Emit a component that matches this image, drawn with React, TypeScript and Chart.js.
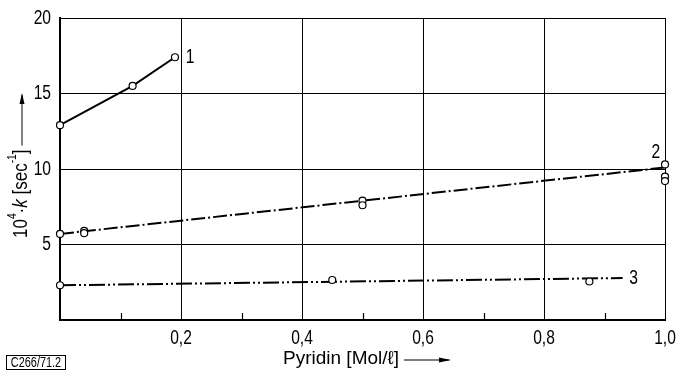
import React, { useEffect, useRef } from "react";
import { Chart, registerables } from "chart.js";

Chart.register(...registerables);

const FONT = "'Liberation Sans', Arial, sans-serif";
const SX = 0.78; // horizontal condensing of lettering

// Series 1 (solid)
const s1X = [0, 0.12, 0.19];
const s1Y = [12.9, 15.5, 17.4];
// Series 2 measured points
const s2X = [0, 0.04, 0.04, 0.5, 0.5, 1.0, 1.0, 1.0];
const s2Y = [5.7, 5.9, 5.75, 7.9, 7.6, 10.3, 9.5, 9.2];
// Series 2 fit line ends
const s2FitX = [0, 1.0];
const s2FitY = [5.7, 10.1];
// Series 3 measured points
const s3X = [0, 0.45, 0.875];
const s3Y = [2.3, 2.65, 2.55];
// Series 3 fit line ends
const s3FitX = [0, 0.93];
const s3FitY = [2.3, 2.78];
// Curve labels
const curveLabels = ["1", "2", "3"];
const curveLabelX = [0.215, 0.985, 0.948];
const curveLabelY = [17.4, 11.1, 2.78];
// Ticks
const xTickValues = [0.2, 0.4, 0.6, 0.8, 1.0];
const xTickLabels = ["0,2", "0,4", "0,6", "0,8", "1,0"];
const xMinorTicks = [0.1, 0.3, 0.5, 0.7, 0.9];
const yTickValues = [5, 10, 15, 20];
const yTickLabels = ["5", "10", "15", "20"];

const pts = (xs: number[], ys: number[]) => xs.map((x, i) => ({ x, y: ys[i] }));

// draws condensed text; returns drawn width
function ctext(ctx: any, t: string, x: number, y: number, size: number, align: string, style = "", sx = SX) {
  ctx.save();
  ctx.font = `${style}${size}px ${FONT}`;
  const w = ctx.measureText(t).width * sx;
  let x0 = x;
  if (align === "center") x0 = x - w / 2;
  else if (align === "right") x0 = x - w;
  ctx.translate(x0, y);
  ctx.scale(sx, 1);
  ctx.textAlign = "left";
  ctx.textBaseline = "middle";
  ctx.fillText(t, 0, 0);
  ctx.restore();
  return w;
}

const annotPlugin = {
  id: "annot",
  afterDatasetsDraw(chart: any) {
    const ctx = chart.ctx;
    const xs = chart.scales.x;
    const ys = chart.scales.y;
    ctx.save();
    ctx.fillStyle = "#000";
    ctx.strokeStyle = "#000";
    // minor ticks on x axis (inside)
    ctx.lineWidth = 1.2;
    xMinorTicks.forEach((v) => {
      const px = Math.round(xs.getPixelForValue(v)) + 0.5;
      ctx.beginPath();
      ctx.moveTo(px, ys.bottom);
      ctx.lineTo(px, ys.bottom - 7);
      ctx.stroke();
    });
    // tick labels
    xTickValues.forEach((v, i) => {
      ctext(ctx, xTickLabels[i], xs.getPixelForValue(v), ys.bottom + 18, 20, "center");
    });
    yTickValues.forEach((v, i) => {
      ctext(ctx, yTickLabels[i], xs.left - 9, ys.getPixelForValue(v), 20, "right");
    });
    // curve labels
    curveLabels.forEach((t, i) => {
      ctext(ctx, t, xs.getPixelForValue(curveLabelX[i]), ys.getPixelForValue(curveLabelY[i]), 20, "center");
    });

    // x title
    const xStart = 283;
    const yT = 359;
    const w = ctext(ctx, "Pyridin [Mol/ℓ]", xStart, yT, 19, "left", "", 1.0);
    const xe = xStart + w;
    ctx.lineWidth = 1;
    ctx.beginPath();
    ctx.moveTo(xe + 5, yT + 1);
    ctx.lineTo(449, yT + 1);
    ctx.stroke();
    ctx.beginPath();
    ctx.moveTo(451, yT + 1);
    ctx.lineTo(439, yT - 1.5);
    ctx.lineTo(439, yT + 3.5);
    ctx.closePath();
    ctx.fill();

    // y title
    const ysx = 0.85;
    ctx.save();
    ctx.translate(21, 238);
    ctx.rotate(-Math.PI / 2);
    let cx = 0;
    cx += ctext(ctx, "10", cx, 0, 20, "left", "", ysx);
    cx += ctext(ctx, "4", cx, -8, 12, "left", "", ysx);
    cx += ctext(ctx, "·", cx, 0, 20, "left", "", ysx);
    cx += ctext(ctx, "k", cx, 0, 20, "left", "italic ", ysx);
    cx += ctext(ctx, " [sec", cx, 0, 20, "left", "", ysx);
    cx += ctext(ctx, "-1", cx, -8, 12, "left", "", ysx);
    cx += ctext(ctx, "]", cx, 0, 20, "left", "", ysx);
    const end = 238 - 93;
    ctx.lineWidth = 1;
    ctx.beginPath();
    ctx.moveTo(cx + 4, 1);
    ctx.lineTo(end - 2, 1);
    ctx.stroke();
    ctx.beginPath();
    ctx.moveTo(end, 1);
    ctx.lineTo(end - 11, -1.5);
    ctx.lineTo(end - 11, 3.5);
    ctx.closePath();
    ctx.fill();
    ctx.restore();

    // box label
    ctx.lineWidth = 1;
    ctx.strokeRect(6.5, 355.5, 59, 14);
    ctext(ctx, "C266/71.2", 36, 363, 14, "center");
    ctx.restore();
  },
};

export default function App() {
  const ref = useRef<HTMLCanvasElement | null>(null);
  useEffect(() => {
    if (!ref.current) return;
    const ptStyle = {
      pointRadius: 3.5,
      pointBackgroundColor: "#fff",
      pointBorderColor: "#000",
      pointBorderWidth: 1.2,
      showLine: false,
      clip: false as any,
      order: 0,
    };
    const chart = new Chart(ref.current, {
      type: "scatter",
      data: {
        datasets: [
          {
            data: pts(s1X, s1Y),
            showLine: true,
            borderColor: "#000",
            borderWidth: 2,
            pointRadius: 3.5,
            pointBackgroundColor: "#fff",
            pointBorderColor: "#000",
            pointBorderWidth: 1.2,
            clip: false as any,
            order: 0,
          },
          { data: pts(s2X, s2Y), ...ptStyle },
          { data: pts(s3X, s3Y), ...ptStyle },
          {
            data: pts(s2FitX, s2FitY),
            showLine: true,
            borderColor: "#000",
            borderWidth: 2,
            borderDash: [14, 3, 2, 3],
            pointRadius: 0,
            clip: false as any,
            order: 1,
          },
          {
            data: pts(s3FitX, s3FitY),
            showLine: true,
            borderColor: "#000",
            borderWidth: 2,
            borderDash: [16, 3, 2, 3, 2, 3],
            pointRadius: 0,
            clip: false as any,
            order: 1,
          },
        ],
      },
      options: {
        animation: false,
        responsive: false,
        maintainAspectRatio: false,
        layout: { padding: { left: 0, top: 18, right: 12, bottom: 0 } },
        plugins: { legend: { display: false }, tooltip: { enabled: false } },
        scales: {
          x: {
            type: "linear",
            min: 0,
            max: 1,
            afterBuildTicks: (scale: any) => {
              scale.ticks = [0, ...xTickValues].map((v) => ({ value: v }));
            },
            afterFit: (scale: any) => {
              scale.height = 53;
              scale.paddingLeft = 0;
              scale.paddingRight = 0;
            },
            ticks: { display: false },
            grid: { color: "#000", lineWidth: 1, drawTicks: false },
            border: { color: "#000", width: 2 },
          },
          y: {
            type: "linear",
            min: 0,
            max: 20,
            afterBuildTicks: (scale: any) => {
              scale.ticks = [0, ...yTickValues].map((v) => ({ value: v }));
            },
            afterFit: (scale: any) => {
              scale.width = 60;
              scale.paddingTop = 0;
              scale.paddingBottom = 0;
            },
            ticks: { display: false },
            grid: { color: "#000", lineWidth: 1, drawTicks: false },
            border: { color: "#000", width: 2 },
          },
        },
      },
      plugins: [annotPlugin],
    });
    return () => chart.destroy();
  }, []);
  return (
    <div style={{ position: "fixed", left: 0, top: 0, width: 677, height: 373, background: "#fff" }}>
      <canvas ref={ref} width={677} height={373} style={{ width: 677, height: 373 }} />
    </div>
  );
}
